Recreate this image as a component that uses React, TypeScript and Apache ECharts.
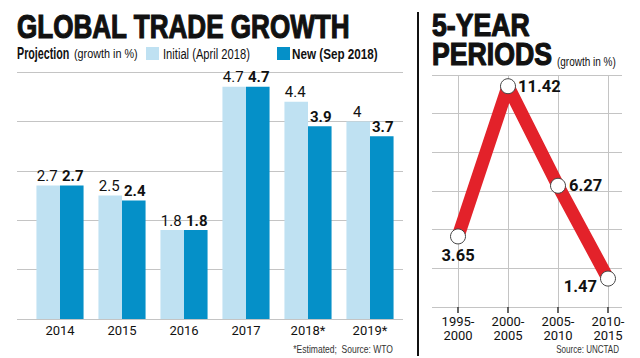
import React, { useEffect, useRef } from "react";
import * as echarts from "echarts";

const years = ["2014", "2015", "2016", "2017", "2018*", "2019*"];
const initialVals = [2.7, 2.5, 1.8, 4.7, 4.4, 4];
const newVals = [2.7, 2.4, 1.8, 4.7, 3.9, 3.7];
const periods = ["1995-\n2000", "2000-\n2005", "2005-\n2010", "2010-\n2015"];
const periodVals = [3.65, 11.42, 6.27, 1.47];

const LAB = "Roboto, 'Liberation Sans', sans-serif";
const HEAD = "'Liberation Sans', Arial, sans-serif";
const LIGHT = "#bfe1f2";
const DARK = "#0590c8";
const GRID = "#c4c4c4";
const INK = "#111";

function txt(
  text: string,
  x: number,
  y: number,
  font: string,
  sx: number,
  align = "left",
  fill = INK,
  heavy = 0
) {
  const style: any = { text, font, fill, align, verticalAlign: "middle" };
  if (heavy > 0) {
    style.stroke = fill;
    style.lineWidth = heavy;
  }
  return { type: "text", x, y, scaleX: sx, style };
}

export default function App() {
  const ref = useRef<HTMLDivElement>(null);
  useEffect(() => {
    const chart = echarts.init(ref.current!, null, { renderer: "svg" });
    const lineLabelPos: any[] = [
      { position: "bottom", distance: 3 },
      { position: "right", distance: 2 },
      { position: "right", distance: 3 },
      { position: "left", distance: 3, offset: [0, 8] },
    ];
    chart.setOption({
      animation: false,
      textStyle: { fontFamily: LAB },
      grid: [
        { left: 17, width: 386, top: 72, bottom: 39 },
        { left: 29, width: 372, top: 72, bottom: 39 },
        { left: 432, width: 190, top: 75, bottom: 51 },
        { left: 458, width: 150, top: 75, bottom: 51 },
      ],
      xAxis: [
        { gridIndex: 0, type: "value", show: false, min: 0, max: 1 },
        {
          gridIndex: 1,
          type: "category",
          data: years,
          axisLine: { show: false },
          axisTick: { show: false },
          axisLabel: { color: INK, fontSize: 13, margin: 5, fontFamily: LAB },
        },
        { gridIndex: 2, type: "value", show: false, min: 0, max: 1 },
        {
          gridIndex: 3,
          type: "category",
          data: periods,
          boundaryGap: false,
          axisLine: { show: false },
          axisTick: { show: true, length: 6, lineStyle: { color: "#333", width: 1.5 } },
          splitLine: { show: true, lineStyle: { color: GRID, width: 1 } },
          axisLabel: {
            color: INK,
            fontSize: 13,
            margin: 7,
            lineHeight: 14,
            interval: 0,
            fontFamily: LAB,
          },
        },
      ],
      yAxis: [
        {
          gridIndex: 0,
          type: "value",
          min: 0,
          max: 5,
          interval: 1,
          axisLabel: { show: false },
          axisLine: { show: false },
          axisTick: { show: false },
          splitLine: { lineStyle: { color: GRID, width: 1 } },
        },
        { gridIndex: 1, type: "value", min: 0, max: 5, show: false, splitLine: { show: false } },
        {
          gridIndex: 2,
          type: "value",
          min: 0,
          max: 12,
          interval: 2,
          axisLabel: { show: false },
          axisLine: { show: false },
          axisTick: { show: false },
          splitLine: { lineStyle: { color: GRID, width: 1 } },
        },
        { gridIndex: 3, type: "value", min: 0, max: 12, show: false, splitLine: { show: false } },
      ],
      series: [
        {
          name: "Initial (April 2018)",
          type: "bar",
          xAxisIndex: 1,
          yAxisIndex: 1,
          data: initialVals,
          barGap: "0%",
          barCategoryGap: "24%",
          itemStyle: { color: LIGHT },
          label: {
            show: true,
            position: "top",
            distance: 2,
            fontSize: 15,
            color: INK,
            fontFamily: LAB,
            offset: [-1, 0],
          },
        },
        {
          name: "New (Sep 2018)",
          type: "bar",
          xAxisIndex: 1,
          yAxisIndex: 1,
          data: newVals,
          itemStyle: { color: DARK },
          label: {
            show: true,
            position: "top",
            distance: 2,
            fontSize: 15,
            fontWeight: "bold",
            color: INK,
            fontFamily: LAB,
            offset: [1, 0],
          },
        },
        {
          name: "5-year growth",
          type: "line",
          xAxisIndex: 3,
          yAxisIndex: 3,
          data: periodVals.map((v, i) => ({ value: v, label: lineLabelPos[i] })),
          lineStyle: { color: "#e3222a", width: 13 },
          symbol: "circle",
          symbolSize: 15,
          itemStyle: { color: "#fff", borderColor: "#444", borderWidth: 1 },
          label: {
            show: true,
            fontSize: 16.5,
            fontWeight: "bold",
            color: INK,
            fontFamily: LAB,
          },
          z: 5,
        },
      ],
      graphic: [
        txt("GLOBAL TRADE GROWTH", 17, 26, `bold 34px ${HEAD}`, 0.767, "left", INK, 1.2),
        txt("Projection", 17, 54, `bold 16px ${HEAD}`, 0.67),
        txt("(growth in %)", 74, 54, `13.5px ${HEAD}`, 0.8),
        {
          type: "rect",
          shape: { x: 146, y: 47, width: 13, height: 13 },
          style: { fill: LIGHT },
        },
        txt("Initial (April 2018)", 163, 54, `15px ${HEAD}`, 0.745),
        {
          type: "rect",
          shape: { x: 277, y: 47, width: 13, height: 13 },
          style: { fill: DARK },
        },
        txt("New (Sep 2018)", 292, 54, `bold 15px ${HEAD}`, 0.78),
        {
          type: "line",
          shape: { x1: 418, y1: 12, x2: 418, y2: 356 },
          style: { stroke: INK, lineWidth: 2 },
        },
        txt("*Estimated;  Source: WTO", 393, 349, `11px ${HEAD}`, 0.775, "right", "#333"),
        txt("5-YEAR", 432, 25, `bold 31px ${HEAD}`, 0.86, "left", INK, 1.2),
        txt("PERIODS", 432, 54.5, `bold 31px ${HEAD}`, 0.86, "left", INK, 1.2),
        txt("(growth in %)", 557, 62, `12.5px ${HEAD}`, 0.8),
        txt("Source: UNCTAD", 619, 349, `11px ${HEAD}`, 0.73, "right", "#333"),
      ],
    });
    return () => chart.dispose();
  }, []);
  return (
    <div
      ref={ref}
      style={{ position: "fixed", left: 0, top: 0, width: 640, height: 358, background: "#fff" }}
    />
  );
}
